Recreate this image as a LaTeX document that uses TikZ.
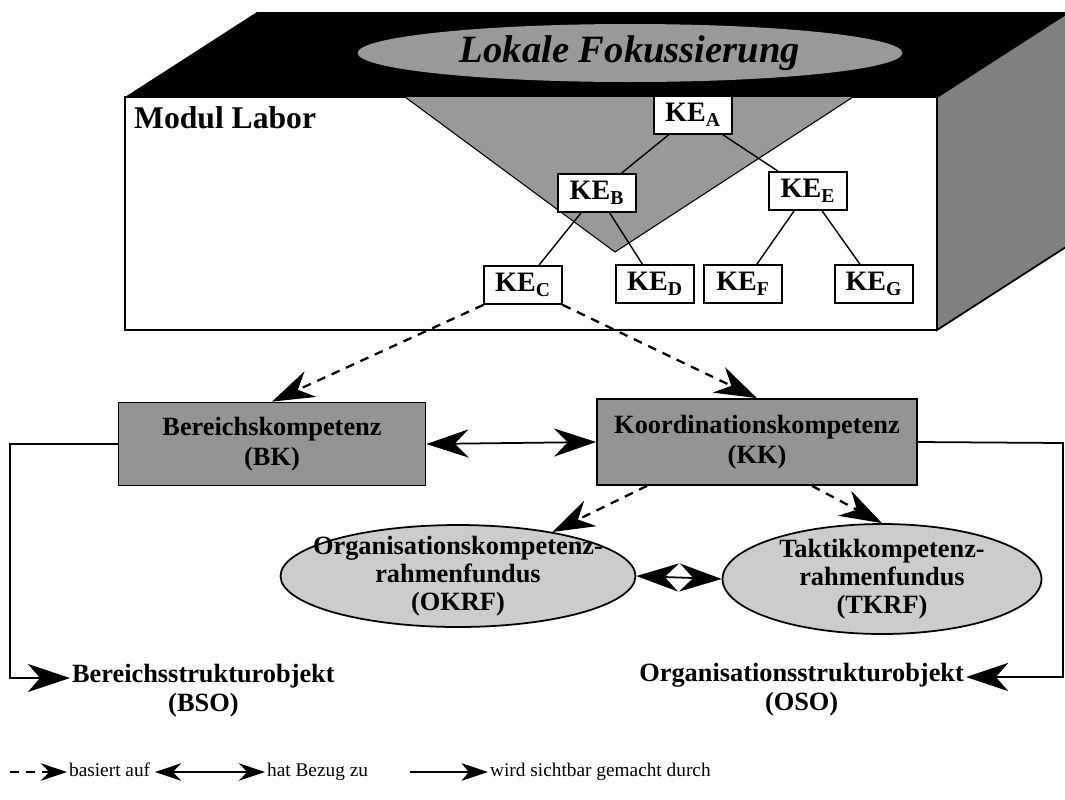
\documentclass[tikz,border=0pt]{standalone}
\usepackage{fontspec}
\setmainfont{Liberation Serif}
\usetikzlibrary{arrows.meta,shapes.geometric,calc,positioning}

\tikzset{
  kebox/.style={draw, fill=white, line width=1pt, minimum width=1.55cm, minimum height=0.76cm,
    inner sep=1pt, font=\fontsize{16}{18}\selectfont\bfseries},
  kompbox/.style={draw, fill=black!42, line width=1pt, align=center,
    font=\fontsize{15}{17}\selectfont\bfseries},
  fundus/.style={ellipse, draw, fill=black!20, line width=1pt, align=center,
    inner xsep=-60pt, inner ysep=-8pt, font=\fontsize{15}{16}\selectfont\bfseries},
  objtext/.style={font=\fontsize{15}{17}\selectfont\bfseries, inner sep=1pt, text height=1.6ex, text depth=0.4ex},
  legtext/.style={font=\fontsize{11}{13}\selectfont, anchor=west, inner sep=1pt, text height=1.6ex, text depth=0.4ex},
  based/.style={line width=1.3pt, dash pattern=on 5pt off 4pt, -{Stealth[length=24pt,width=16pt]}},
  related/.style={line width=1pt, {Stealth[length=24pt,width=16pt]}-{Stealth[length=24pt,width=16pt]}},
  vis/.style={line width=1pt, -{Stealth[length=24pt,width=16pt,inset=7pt]}},
}

\begin{document}
\begin{tikzpicture}[x=0.02cm, y=-0.02cm]
    \useasboundingbox (0,0) rectangle (1065,799);

    % Quader Modul Labor
    \fill[black] (125,97) -- (257,12) -- (1069,12) -- (937,97) -- cycle;
    \filldraw[fill=black!50, line width=1pt] (937,97) -- (1069,12) -- (1069,245) -- (937,330) -- cycle;
    \filldraw[fill=white, line width=1pt] (125,97) rectangle (937,330);
    \node[anchor=west, font=\fontsize{18}{20}\selectfont\bfseries] (labor) at (128,118) {Modul Labor};

    % Lokale Fokussierung
    \node[ellipse, fill=black!40, minimum width=10.9cm, minimum height=1.16cm, inner sep=0pt, inner ysep=-4pt,
      font=\fontsize{22}{24}\selectfont\bfseries\itshape] (fokus) at (630,53) {Lokale Fokussierung};
    \fill[black!40] (405,97) -- (853,97) -- (615,252) -- cycle;
    \draw[line width=0.6pt] (405,97) -- (615,252) -- (853,97);

    % Kompetenzeinheiten
    \node[kebox] (kea) at (693,115) {KE\textsubscript{A}};
    \node[kebox] (keb) at (597,193) {KE\textsubscript{B}};
    \node[kebox] (kee) at (808,191) {KE\textsubscript{E}};
    \node[kebox] (kec) at (523,285) {KE\textsubscript{C}};
    \node[kebox] (ked) at (655,284) {KE\textsubscript{D}};
    \node[kebox] (kef) at (743,284) {KE\textsubscript{F}};
    \node[kebox] (keg) at (874,284) {KE\textsubscript{G}};

    \draw[line width=0.8pt] (kea) -- (keb);
    \draw[line width=0.8pt] (kea) -- (kee);
    \draw[line width=0.8pt] (keb) -- (kec);
    \draw[line width=0.8pt] (keb) -- (ked);
    \draw[line width=0.8pt] (kee) -- (kef);
    \draw[line width=0.8pt] (kee) -- (keg);

    % Kompetenzen
    \node[kompbox, minimum width=6.14cm, minimum height=1.66cm] (bk) at (272,444) {Bereichskompetenz\\(BK)};
    \node[kompbox, minimum width=6.4cm, minimum height=1.72cm] (kk) at (757,442) {Koordinationskompetenz\\(KK)};

    % Rahmenfundus
    \node[fundus, minimum width=7.1cm, minimum height=2.04cm] (okrf) at (458,576) {Organisationskompetenz-\\rahmenfundus\\(OKRF)};
    \node[fundus, minimum width=6.38cm, minimum height=2.2cm] (tkrf) at (882,579) {Taktikkompetenz-\\rahmenfundus\\(TKRF)};

    \draw[based] (kec.south west) -- (bk.north);
    \draw[based] (kec.south east) -- (kk.north);
    \draw[related] (bk.east) -- (kk.west);
    \draw[based] ($(kk.south)+(-110,0)$) -- (okrf.25);
    \draw[based] ($(kk.south)+(55,0)$) -- (tkrf.north);
    \draw[related] (okrf.east) -- (tkrf.west);

    % Strukturobjekte
    \node[objtext, anchor=west] (bso) at (70,678) {Bereichsstrukturobjekt};
    \node[objtext, below=5pt of bso] (bsoabk) {(BSO)};
    \node[objtext, anchor=east] (oso) at (966,677) {Organisationsstrukturobjekt};
    \node[objtext, below=5pt of oso] (osoabk) {(OSO)};
    \coordinate (links) at (10,444);
    \coordinate (rechts) at (1063,443);
    \draw[vis] (bk.west) -- (links) |- (bso.west);
    \draw[vis] (kk.east) -- (rechts) |- (oso.east);

    % Legende
    \coordinate (lega) at (10,772);
    \node[legtext] (leg1) at (67,772) {basiert auf};
    \draw[based, line width=1pt, -{Stealth[length=15pt,width=10pt]}] (lega) -- (leg1.west);
    \coordinate (legb) at (155,772);
    \node[legtext] (leg2) at (265,772) {hat Bezug zu};
    \draw[related, {Stealth[length=15pt,width=10pt]}-{Stealth[length=15pt,width=10pt]}] (legb) -- (leg2.west);
    \coordinate (legc) at (410,772);
    \node[legtext] (leg3) at (488,772) {wird sichtbar gemacht durch};
    \draw[vis, -{Stealth[length=15pt,width=10pt,inset=4pt]}] (legc) -- (leg3.west);
\end{tikzpicture}
\end{document}
